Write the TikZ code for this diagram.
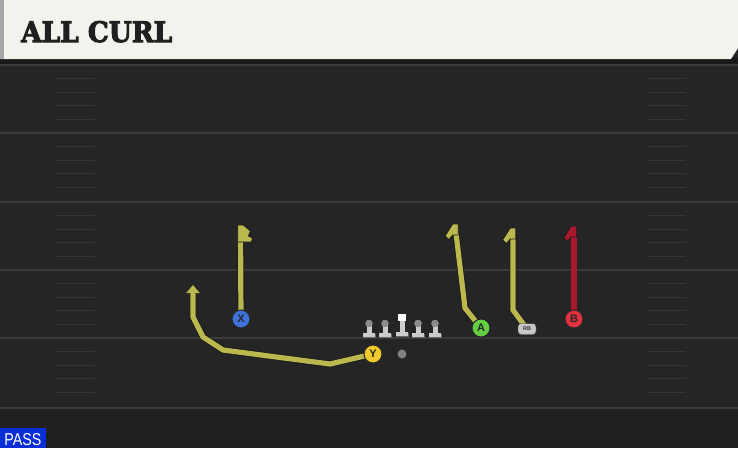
\documentclass[tikz,border=0pt]{standalone}
\usepackage{fontspec}
\usetikzlibrary{arrows.meta}
\newfontfamily\titlefont{DejaVu Serif}[BoldFeatures={FakeBold=3.5}]
\newfontfamily\sansf{Liberation Sans}
\definecolor{fieldbg}{HTML}{252525}
\definecolor{fieldlow}{HTML}{202020}
\definecolor{cream}{HTML}{F4F2EC}
\definecolor{yardc}{HTML}{3A3A3A}
\definecolor{hashc}{HTML}{363636}
\definecolor{routey}{HTML}{BAB84E}
\definecolor{router}{HTML}{A8182E}
\definecolor{xblue}{HTML}{3E72DA}
\definecolor{agreen}{HTML}{62CE42}
\definecolor{bred}{HTML}{E2323F}
\definecolor{yyel}{HTML}{F0CA2A}
\definecolor{passblue}{HTML}{0B2FD6}
\pgfdeclarelayer{field}
\pgfdeclarelayer{routes}
\pgfsetlayers{field,routes,main}
\tikzset{
  player/.style={circle, minimum size=18pt, inner sep=0pt, draw=black!85, line width=1pt,
    font=\sansf\bfseries\fontsize{11}{11}\selectfont, text=black!85},
  route/.style={draw=routey, line width=5.2pt, line join=miter, miter limit=4,
    preaction={draw=black!90, line width=6.8pt, line join=miter}},
  redroute/.style={route, draw=router},
  hookfill/.style={fill=routey, draw=black!90, line width=0.8pt, line join=miter},
  redhook/.style={hookfill, fill=router},
  yardline/.style={draw=yardc, line width=1.8pt},
  hash/.style={draw=hashc, line width=1.3pt},
}
\newcommand\lineman[1]{%
  \fill[black!60] (#1-6.5,333.5) rectangle (#1+6.5,338);
  \fill[black!20] (#1-6,333) rectangle (#1+6,337);
  \fill[black!20] (#1-2.5,324) rectangle (#1+2.5,334);
  \fill[black!45] (#1,323.5) circle (3.8);
}
% left-pointing curl flag at a route end
\newcommand\lefthook[2]{%
  \path[#2] ([shift={(2.8,0)}]#1) -- ([shift={(-2.8,0)}]#1) -- ([shift={(-10.5,12)}]#1)
    -- ([shift={(-6.5,15.5)}]#1) -- ([shift={(-2.8,11)}]#1) -- ([shift={(2.8,11)}]#1) -- cycle;
}
\begin{document}
\begin{tikzpicture}[x=1pt,y=-1pt]
\useasboundingbox (0,0) rectangle (738,448);
\begin{pgfonlayer}{field}
  \fill[fieldbg] (0,0) rectangle (738,448);
  \fill[fieldlow] (0,408) rectangle (738,448);
  \fill[black!90] (0,58) rectangle (738,64);
  \foreach \y in {65,133,202,270,338,408} \draw[yardline] (0,\y) -- (738,\y);
  \foreach \y in {65,133,202,270,338} {
    \foreach \k in {1,2,3,4} {
      \draw[hash] (56,\y+13.6*\k) -- (95,\y+13.6*\k);
      \draw[hash] (647,\y+13.6*\k) -- (686,\y+13.6*\k);
    }
  }
  \fill[cream] (0,0) -- (738,0) -- (738,48) -- (731,59) -- (0,59) -- cycle;
  \fill[black!35] (0,0) rectangle (4,59);
\end{pgfonlayer}
\node[anchor=base west, inner sep=0pt, text=black!88] (title) at (21,42)
  {\resizebox{151pt}{21pt}{\titlefont\bfseries ALL CURL}};
\node[fill=passblue, anchor=north west, minimum width=46pt, minimum height=20pt, inner sep=0pt] (pass) at (0,428) {};
\node[anchor=base, inner sep=0pt, text=white] (passtxt) at (23,445)
  {\resizebox{37pt}{12pt}{\sansf PASS}};
% players
\node[player, fill=xblue] (X) at (241,319) {X};
\node[player, fill=agreen] (A) at (481,328) {A};
\node[player, fill=bred] (B) at (574,319) {B};
\node[player, fill=yyel] (Y) at (373,354) {Y};
\node[draw=black!80, fill=black!22, rounded corners=3pt, minimum width=18pt, minimum height=11pt, inner sep=0pt,
  font=\sansf\bfseries\fontsize{5.5}{5.5}\selectfont, text=black!80] (RB) at (527,329) {RB};
\node[circle, fill=black!50, minimum size=9pt, inner sep=0pt] (ball) at (402,354) {};
% line
\lineman{369}\lineman{385}\lineman{418}\lineman{435}
\fill[black!60] (395.5,332.5) rectangle (408.5,337);
\fill[black!20] (396,332) rectangle (408,336);
\fill[black!20] (399.5,320) rectangle (404.5,333);
\fill[white] (398,314) rectangle (406,321);
\node[inner sep=0pt, minimum size=1pt] (C) at (402,326) {};
% route ends
\coordinate (xend) at (240.5,225);
\coordinate (aend) at (455.5,224);
\coordinate (rbend) at (513,228);
\coordinate (bend) at (574,226);
\coordinate (yend) at (193,285);
\begin{pgfonlayer}{routes}
  \draw[route] (X.center) -- ([shift={(0,5)}]xend);
  \path[hookfill] ([shift={(-2.8,0)}]xend) -- ([shift={(2.8,0)}]xend) -- ([shift={(10,6)}]xend)
    -- ([shift={(8,11)}]xend) -- ([shift={(12,13)}]xend) -- ([shift={(11,17)}]xend)
    -- ([shift={(2.8,17)}]xend) -- ([shift={(-2.8,17)}]xend) -- cycle;
  \draw[route] (A.center) -- (465,308) -- ([shift={(0,5)}]aend);
  \lefthook{aend}{hookfill}
  \draw[route] (RB.center) -- (513,310) -- ([shift={(0,5)}]rbend);
  \lefthook{rbend}{hookfill}
  \draw[redroute] (B.center) -- ([shift={(0,5)}]bend);
  \lefthook{bend}{redhook}
  \draw[route, -{Triangle[width=13pt,length=8pt,fill=routey]}] (Y.center) -- (330,364) -- (223,350) -- (203,337) -- (193,317) -- (yend);
\end{pgfonlayer}
\end{tikzpicture}
\end{document}
